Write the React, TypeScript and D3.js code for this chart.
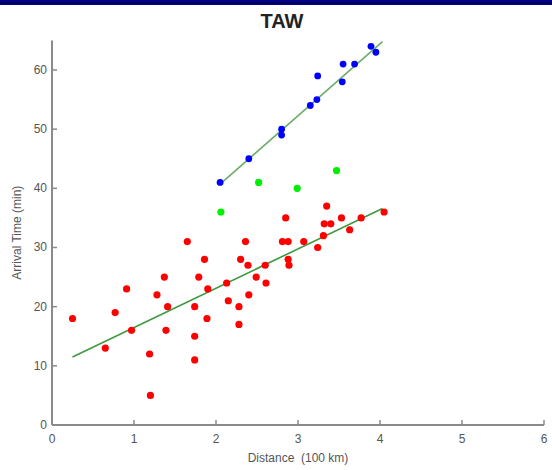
import React from "react";
import * as d3 from "d3";

const W = 552;
const H = 470;

const redX = [0.25, 0.65, 0.77, 0.91, 0.97, 1.2, 1.19, 1.28, 1.37, 1.41, 1.39, 1.65, 1.74, 1.74, 1.74, 1.79, 1.86, 1.9, 1.89,
  2.15, 2.28, 2.4, 2.13, 2.3, 2.36, 2.39, 2.49, 2.61, 2.6, 2.28,
  2.85, 2.81, 2.88, 2.88, 2.89, 3.07, 3.24, 3.31, 3.35, 3.32, 3.4, 3.53, 3.63, 3.77, 4.05];
const redY = [18, 13, 19, 23, 16, 5, 12, 22, 25, 20, 16, 31, 20, 15, 11, 25, 28, 23, 18,
  21, 20, 22, 24, 28, 31, 27, 25, 24, 27, 17,
  35, 31, 31, 28, 27, 31, 30, 32, 37, 34, 34, 35, 33, 35, 36];

const blueX = [2.05, 2.4, 2.8, 2.8, 3.15, 3.23, 3.24, 3.54, 3.55, 3.69, 3.89, 3.95];
const blueY = [41, 45, 50, 49, 54, 55, 59, 58, 61, 61, 64, 63];

const greenX = [2.06, 2.52, 2.99, 3.47];
const greenY = [36, 41, 40, 43];

const redFitX = [0.25, 4.03];
const redFitY = [11.5, 36.6];
const blueFitX = [2.05, 4.03];
const blueFitY = [40.7, 64.8];

const xTicks = [0, 1, 2, 3, 4, 5, 6];
const yTicks = [0, 10, 20, 30, 40, 50, 60];

const FONT = "'Liberation Sans', Arial, sans-serif";

export default function App() {
  const x = d3.scaleLinear().domain([0, 6]).range([52, 544]);
  const y = d3.scaleLinear().domain([0, 65]).range([425, 40.4]);
  const line = d3
    .line<[number, number]>()
    .x((d) => x(d[0]))
    .y((d) => y(d[1]));
  const redFit = redFitX.map((v, i) => [v, redFitY[i]] as [number, number]);
  const blueFit = blueFitX.map((v, i) => [v, blueFitY[i]] as [number, number]);
  const axisColor = "#8a8a8a";
  const labelColor = "#555";

  return (
    <svg
      width={W}
      height={H}
      style={{ position: "absolute", left: 0, top: 0, background: "#fff" }}
    >
      <rect x={0} y={0} width={W} height={H} fill="#fff" />
      <rect x={0} y={0} width={W} height={5} fill="#000088" />
      <rect x={0} y={2} width={W} height={1.5} fill="#00004a" />
      <text
        x={282}
        y={28}
        textAnchor="middle"
        fontFamily={FONT}
        fontWeight="bold"
        fontSize={20}
        fill="#222"
      >
        TAW
      </text>

      {/* axes */}
      <line x1={x(0)} x2={x(0)} y1={y(65)} y2={y(0)} stroke={axisColor} strokeWidth={2} />
      <line x1={x(0)} x2={x(6)} y1={y(0)} y2={y(0)} stroke={axisColor} strokeWidth={2} />
      {yTicks.map((t) => (
        <g key={"y" + t}>
          <line x1={x(0)} x2={x(0) + 5} y1={y(t)} y2={y(t)} stroke={axisColor} strokeWidth={1.5} />
          <text
            x={x(0) - 5}
            y={y(t) + 4}
            textAnchor="end"
            fontFamily={FONT}
            fontSize={12}
            fill={labelColor}
          >
            {t}
          </text>
        </g>
      ))}
      {xTicks.map((t) => (
        <g key={"x" + t}>
          <line x1={x(t)} x2={x(t)} y1={y(0)} y2={y(0) - 5} stroke={axisColor} strokeWidth={1.5} />
          <text
            x={x(t)}
            y={y(0) + 18}
            textAnchor="middle"
            fontFamily={FONT}
            fontSize={12}
            fill={labelColor}
          >
            {t}
          </text>
        </g>
      ))}
      <text
        x={298}
        y={462}
        textAnchor="middle"
        fontFamily={FONT}
        fontSize={12}
        fill={labelColor}
        style={{ whiteSpace: "pre" }}
      >
        {"Distance  (100 km)"}
      </text>
      <text
        transform={`translate(21,${(y(0) + y(65)) / 2}) rotate(-90)`}
        textAnchor="middle"
        fontFamily={FONT}
        fontSize={12}
        fill={labelColor}
      >
        Arrival Time (min)
      </text>

      {/* fit lines */}
      <path d={line(blueFit) || ""} fill="none" stroke="#6cae6c" strokeWidth={1.6} />
      <path d={line(redFit) || ""} fill="none" stroke="#3f9a3f" strokeWidth={1.6} />

      {/* points */}
      {redX.map((v, i) => (
        <circle key={"r" + i} cx={x(v)} cy={y(redY[i])} r={3.6} fill="#ff0000" />
      ))}
      {greenX.map((v, i) => (
        <circle key={"g" + i} cx={x(v)} cy={y(greenY[i])} r={3.6} fill="#00ee00" />
      ))}
      {blueX.map((v, i) => (
        <circle key={"b" + i} cx={x(v)} cy={y(blueY[i])} r={3.4} fill="#0000ff" />
      ))}
    </svg>
  );
}
